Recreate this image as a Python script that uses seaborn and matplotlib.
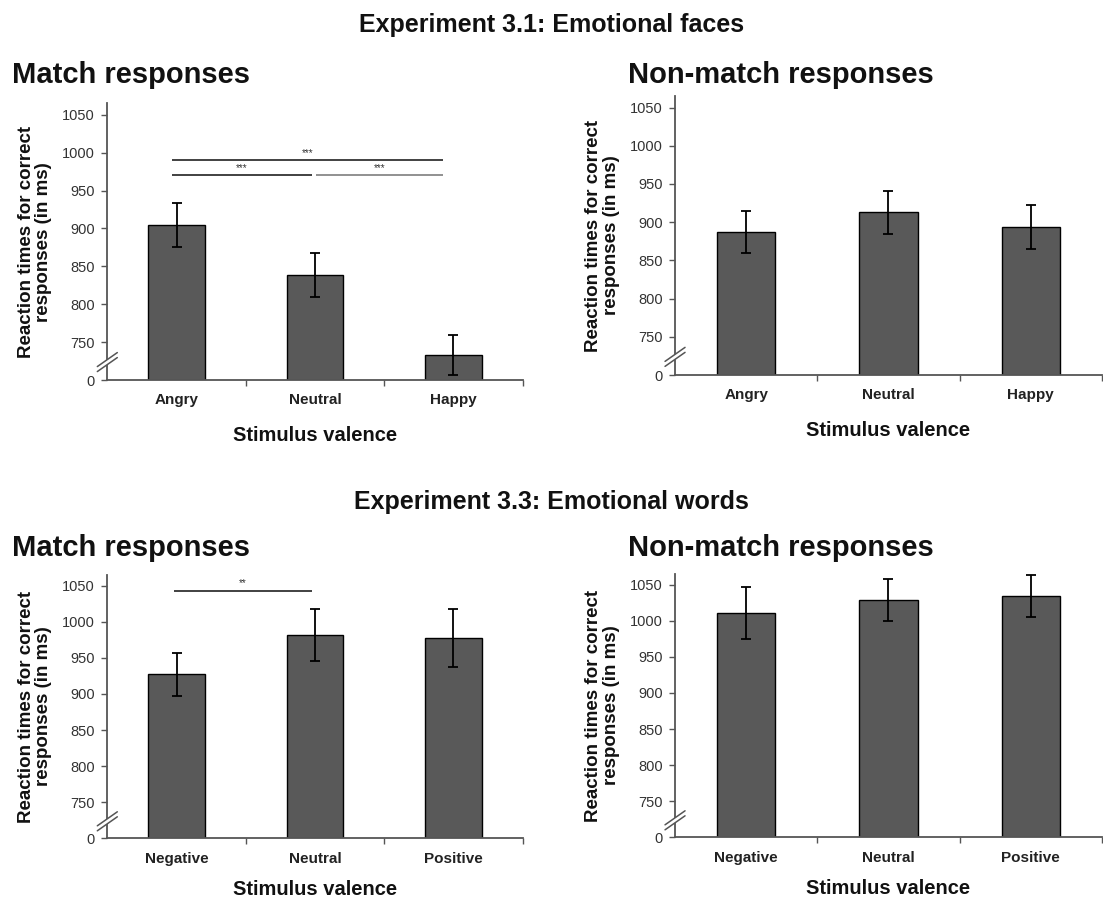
import numpy as np
import matplotlib.pyplot as plt
import matplotlib.transforms as mtransforms
from matplotlib.patches import Polygon
import seaborn as sns

# categories
faces = ["Angry", "Neutral", "Happy"]
words = ["Negative", "Neutral", "Positive"]

# mean reaction times (ms) and error bars
faces_match = [905, 839, 733]
faces_match_err = [29, 29, 26]
faces_nonmatch = [887, 913, 894]
faces_nonmatch_err = [27, 28, 29]
words_match = [927, 981, 977]
words_match_err = [30, 36, 40]
words_nonmatch = [1011, 1029, 1034]
words_nonmatch_err = [36, 29, 29]

# y axis: bottom "0" stands for the broken part of the axis
ytick_vals = [700, 750, 800, 850, 900, 950, 1000, 1050]
ytick_labels = ["0", "750", "800", "850", "900", "950", "1000", "1050"]

# significance brackets: (x start, x end, y, label, colour)
sig_faces = [(-0.035, 1.926, 990, "***", "#333333"),
             (-0.035, 0.976, 970, "***", "#333333"),
             (1.007, 1.926, 970, "***", "#888888")]
sig_words = [(-0.02, 0.976, 1043, "**", "#333333")]

sns.set_theme(style="white")
plt.rcParams['font.family'] = ['Liberation Sans', 'DejaVu Sans']

fig = plt.figure(figsize=(11.03, 8.98), dpi=100)

BAR = "#595959"
SPINE = "#555555"


def draw_panel(rect, cats, vals, errs, sigs, xpad, lpad):
    ax = fig.add_axes(rect)
    sns.barplot(x=cats, y=vals, color=BAR, saturation=1, width=0.41,
                edgecolor="black", linewidth=1, errorbar=None, ax=ax)
    ax.errorbar(range(len(cats)), vals, yerr=errs, fmt="none",
                ecolor="black", elinewidth=1.3, capsize=3.5, capthick=1.3)
    ax.set_xlim(-0.5, 2.5)
    ax.set_ylim(700, 1065)
    ax.set_yticks(ytick_vals)
    ax.set_yticklabels(ytick_labels, fontsize=10.5, color="#333333")
    ax.tick_params(axis="y", length=4, width=1, color=SPINE, direction="out", left=True, pad=5)
    ax.tick_params(axis="x", length=0, pad=xpad)
    ax.set_xticks([0.5, 1.5, 2.5], minor=True)
    ax.tick_params(axis="x", which="minor", length=4, width=1, color=SPINE, bottom=True)
    for lab in ax.get_xticklabels():
        lab.set_fontweight("bold")
        lab.set_fontsize(11)
        lab.set_color("#222222")
    sns.despine(ax=ax)
    for s in ["left", "bottom"]:
        ax.spines[s].set_color(SPINE)
        ax.spines[s].set_linewidth(1.3)
    ax.set_xlabel("Stimulus valence", fontsize=14.5, fontweight="bold", labelpad=lpad, color="#111111")
    ax.set_ylabel("Reaction times for correct\nresponses (in ms)", fontsize=13.5,
                  fontweight="bold", labelpad=7, color="#111111", linespacing=1.05)

    for x0, x1, y, txt, c in sigs:
        ax.plot([x0, x1], [y, y], color=c, lw=1.3, solid_capstyle="butt")
        ax.text((x0 + x1) / 2, y + 3, txt, ha="center", va="bottom", fontsize=7, color="#333333")

    # axis break marks
    tr = fig.dpi_scale_trans + mtransforms.ScaledTranslation(-0.5, 727, ax.transData)
    dx, dy, gap = 0.10, 0.07, 0.05
    gapfill = Polygon([(-dx, -dy), (dx, dy), (dx, dy - gap), (-dx, -dy - gap)],
                      closed=True, transform=tr, facecolor="white", edgecolor="none",
                      clip_on=False, zorder=5)
    ax.add_patch(gapfill)
    for off in [0, -gap]:
        ax.plot([-dx, dx], [-dy + off, dy + off], color=SPINE, lw=1.1,
                transform=tr, clip_on=False, zorder=6)
    return ax


draw_panel([0.0973, 0.5768, 0.3766, 0.3081], faces, faces_match, faces_match_err, sig_faces, 9, 14)
draw_panel([0.612, 0.5824, 0.3869, 0.3106], faces, faces_nonmatch, faces_nonmatch_err, [], 9, 14)
draw_panel([0.0973, 0.0665, 0.3766, 0.2934], words, words_match, words_match_err, sig_words, 10, 10)
draw_panel([0.612, 0.0676, 0.3869, 0.2934], words, words_nonmatch, words_nonmatch_err, [], 10, 10)

fig.text(0.5, 0.972, "Experiment 3.1: Emotional faces", ha="center", va="center",
         fontsize=18, fontweight="bold", color="#111111")
fig.text(0.5, 0.441, "Experiment 3.3: Emotional words", ha="center", va="center",
         fontsize=18, fontweight="bold", color="#111111")
for y in [0.9165, 0.39]:
    fig.text(12 / 1103, y, "Match responses", ha="left", va="center",
             fontsize=21, fontweight="bold", color="#111111")
    fig.text(628 / 1103, y, "Non-match responses", ha="left", va="center",
             fontsize=21, fontweight="bold", color="#111111")

fig.savefig("out.png", dpi=100)
